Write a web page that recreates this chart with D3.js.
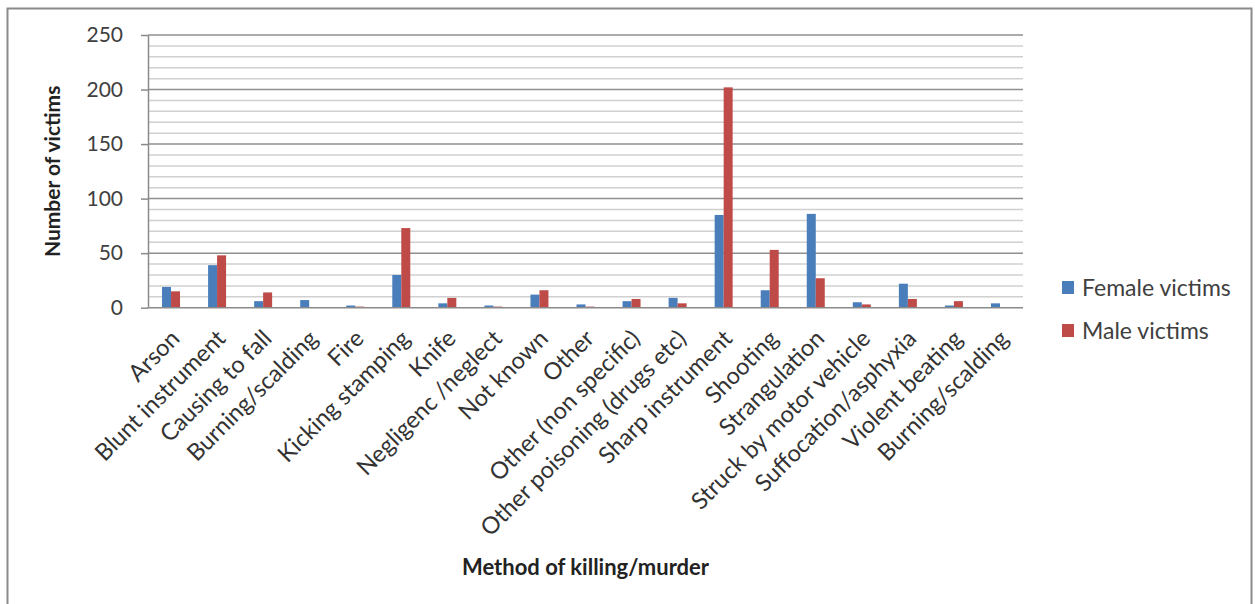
<!DOCTYPE html>
<html>
<head>
<meta charset="utf-8">
<script src="https://cdn.jsdelivr.net/npm/d3@7"></script>
<style>
  html, body { margin: 0; padding: 0; background: #fff; }
  svg { display: block; font-family: Lato, "Open Sans", sans-serif; }
</style>
</head>
<body>
<svg id="chart" width="1255" height="604"></svg>
<script>
// Method of killing/murder, victims by sex
const categories = [
  "Arson", "Blunt instrument", "Causing to fall", "Burning/scalding", "Fire",
  "Kicking stamping", "Knife", "Negligenc /neglect", "Not known", "Other",
  "Other (non specific)", "Other poisoning (drugs etc)", "Sharp instrument",
  "Shooting", "Strangulation", "Struck by motor vehicle", "Suffocation/asphyxia",
  "Violent beating", "Burning/scalding"
];
const femaleVictims = [19, 39, 6, 7, 2, 30, 4, 2, 12, 3, 6, 9, 85, 16, 86, 5, 22, 2, 4];
const maleVictims   = [15, 48, 14, 0, 1, 73, 9, 1, 16, 1, 8, 4, 202, 53, 27, 3, 8, 6, 0];
const seriesNames = ["Female victims", "Male victims"];
const yTicks = [0, 50, 100, 150, 200, 250];

const colors = { "Female victims": "#4a7ebb", "Male victims": "#be4b48" };
const seriesValues = { "Female victims": femaleVictims, "Male victims": maleVictims };

const svg = d3.select("#chart");
const plot = { left: 148, right: 1023, top: 35, bottom: 307.7 };

// outer chart frame
svg.append("rect")
  .attr("x", 7.5).attr("y", 8.5)
  .attr("width", 1244).attr("height", 640)
  .attr("fill", "#fff").attr("stroke", "#8a8a8a").attr("stroke-width", 2);

const x = d3.scaleBand()
  .domain(d3.range(categories.length))
  .range([plot.left, plot.right])
  .padding(0);

const xSub = d3.scaleBand()
  .domain(seriesNames)
  .range([0, x.bandwidth()])
  .paddingInner(0)
  .paddingOuter(1.56);

const y = d3.scaleLinear().domain([0, 250]).range([plot.bottom, plot.top]);

// minor gridlines every 10
const g = svg.append("g");
g.selectAll("line.minor")
  .data(d3.range(10, 250, 10).filter(v => v % 50 !== 0))
  .join("line")
  .attr("class", "minor")
  .attr("x1", plot.left).attr("x2", plot.right)
  .attr("y1", d => y(d)).attr("y2", d => y(d))
  .attr("stroke", "#d0d0d0").attr("stroke-width", 1.5);

// major gridlines
g.selectAll("line.major")
  .data(yTicks.filter(v => v > 0))
  .join("line")
  .attr("class", "major")
  .attr("x1", plot.left).attr("x2", plot.right)
  .attr("y1", d => y(d)).attr("y2", d => y(d))
  .attr("stroke", "#8f8f8f").attr("stroke-width", 1.5);

// bars
const groups = svg.append("g").selectAll("g")
  .data(categories.map((c, i) => i))
  .join("g")
  .attr("transform", i => `translate(${x(i)},0)`);

groups.selectAll("rect")
  .data(i => seriesNames.map(s => ({ s, v: seriesValues[s][i] })))
  .join("rect")
  .attr("x", d => xSub(d.s))
  .attr("width", xSub.bandwidth())
  .attr("y", d => y(d.v))
  .attr("height", d => y(0) - y(d.v))
  .attr("fill", d => colors[d.s]);

// y axis
const yAxis = svg.append("g")
  .attr("transform", `translate(${plot.left},0)`)
  .call(d3.axisLeft(y).tickValues(yTicks).tickSize(7).tickPadding(18).tickSizeOuter(0));
yAxis.select(".domain").attr("stroke", "#8a8a8a").attr("stroke-width", 1.5);
yAxis.selectAll(".tick line").attr("stroke", "#8a8a8a").attr("stroke-width", 1.5);
yAxis.selectAll(".tick text")
  .attr("fill", "#404040")
  .style("font-size", "21px")
  .style("font-family", "Lato, sans-serif");

// x axis baseline
svg.append("line")
  .attr("x1", plot.left).attr("x2", plot.right)
  .attr("y1", y(0)).attr("y2", y(0))
  .attr("stroke", "#8a8a8a").attr("stroke-width", 1.5);

// rotated category labels
svg.append("g").selectAll("text")
  .data(categories.map((c, i) => ({ c, i })))
  .join("text")
  .attr("transform", d => `translate(${x(d.i) + x.bandwidth() / 2 + 10},340) rotate(-45)`)
  .attr("text-anchor", "end")
  .attr("fill", "#333")
  .style("font-size", "23.5px")
  .text(d => d.c);

// axis titles
svg.append("text")
  .attr("transform", `translate(60,${(plot.top + plot.bottom) / 2}) rotate(-90)`)
  .attr("text-anchor", "middle")
  .attr("fill", "#222")
  .style("font-size", "21px").style("font-weight", "bold")
  .text("Number of victims");

svg.append("text")
  .attr("x", (plot.left + plot.right) / 2)
  .attr("y", 575)
  .attr("text-anchor", "middle")
  .attr("fill", "#222")
  .style("font-size", "22px").style("font-weight", "bold")
  .text("Method of killing/murder");

// legend
const legend = svg.append("g").attr("transform", "translate(1062,281)");
const rows = legend.selectAll("g")
  .data(seriesNames)
  .join("g")
  .attr("transform", (d, i) => `translate(0,${i * 43})`);
rows.append("rect")
  .attr("width", 12).attr("height", 13)
  .attr("fill", d => colors[d]);
rows.append("text")
  .attr("x", 20).attr("y", 6.5)
  .attr("dy", "0.36em")
  .attr("fill", "#404040")
  .style("font-size", "23px")
  .text(d => d);
</script>
</body>
</html>
